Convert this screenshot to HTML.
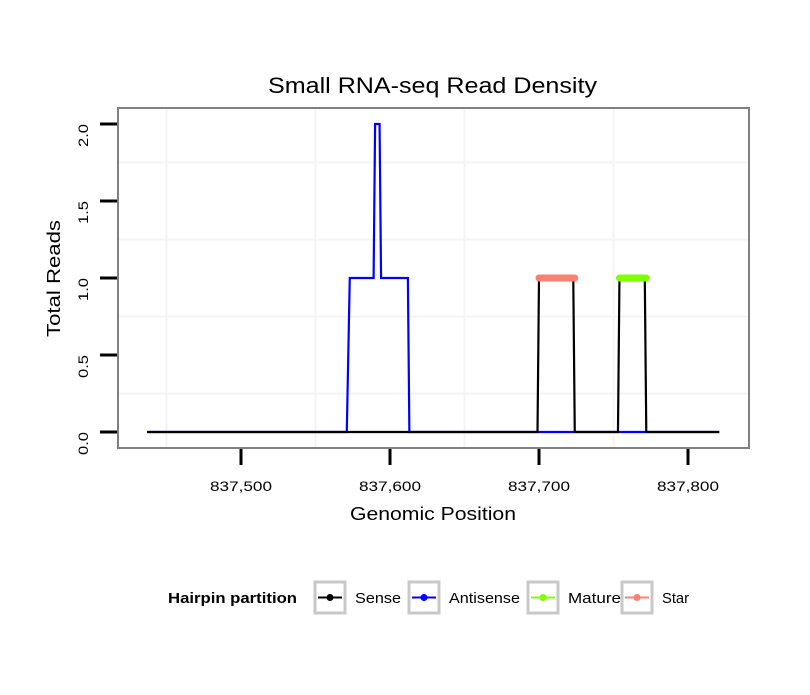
<!DOCTYPE html>
<html><head><meta charset="utf-8"><style>
body{margin:0;background:#fff;font-family:"Liberation Sans",sans-serif}
text{font-family:"Liberation Sans",sans-serif}
</style></head><body>
<svg id="chart" width="810" height="690" xmlns="http://www.w3.org/2000/svg">
<rect width="810" height="690" fill="#fff"/>
<text x="268" y="93" font-size="22" textLength="329" lengthAdjust="spacingAndGlyphs">Small RNA-seq Read Density</text>
<g id="grid"></g>
<g id="series"></g>
<rect x="118" y="108" width="631" height="340" fill="none" stroke="#808080" stroke-width="2"/>
<g id="axes"></g>
<text x="350" y="520" font-size="18" textLength="166" lengthAdjust="spacingAndGlyphs">Genomic Position</text>
<text transform="translate(60,337) rotate(-90)" font-size="18" textLength="117" lengthAdjust="spacingAndGlyphs">Total Reads</text>
<g>
<text x="168" y="603" font-size="15" font-weight="bold" textLength="129" lengthAdjust="spacingAndGlyphs">Hairpin partition</text>
<g id="legend-items"></g>
</g>
</svg>
<script>
const xTicks=[837500,837600,837700,837800];
const xTickLabels=["837,500","837,600","837,700","837,800"];
const xGrid=[837450,837550,837650,837750];
const yTicks=[0,0.5,1,1.5,2];
const yTickLabels=["0.0","0.5","1.0","1.5","2.0"];
const yGrid=[0.25,0.75,1.25,1.75];
const antisensePos=[837437,837571,837573,837589,837590,837593,837594,837612,837613,837821];
const antisenseVal=[0,0,1,1,2,2,1,1,0,0];
const sensePos=[837437,837699,837700,837723,837724,837753,837754,837771,837772,837821];
const senseVal=[0,0,1,1,0,0,1,1,0,0];
const starRange=[837700,837724];const starVal=1;
const matureRange=[837754,837772];const matureVal=1;
const legendLabels=["Sense","Antisense","Mature","Star"];
const legendColors=["#000","#0000ff","#7fff00","#fa8072"];
const legendTextW=[46,71,53,27];

const NS="http://www.w3.org/2000/svg";
const X=v=>241+(v-837500)*1.49;
const Y=v=>432-v*154;
function mk(tag,attrs,parent){const e=document.createElementNS(NS,tag);for(const k in attrs)e.setAttribute(k,attrs[k]);parent.appendChild(e);return e;}
const grid=document.getElementById('grid'),series=document.getElementById('series'),axes=document.getElementById('axes');
xGrid.forEach(v=>{const l=mk('line',{x1:X(v),x2:X(v),y1:109,y2:447,stroke:'#f4f4f4','stroke-width':2},grid);

});
yGrid.forEach(v=>{const l=mk('line',{x1:119,x2:748,y1:Y(v),y2:Y(v),stroke:'#f4f4f4','stroke-width':2},grid);

});
function path(pos,val,color,name){const d=pos.map((p,i)=>(i?'L':'M')+X(p)+','+Y(val[i])).join(' ');
const e=mk('path',{d:d,fill:'none',stroke:color,'stroke-width':2.2},series);

}
path(antisensePos,antisenseVal,'#0000ff','antisense-line');
path(sensePos,senseVal,'#000','sense-line');
const st=mk('line',{x1:X(starRange[0]),x2:X(starRange[1]),y1:Y(starVal),y2:Y(starVal),stroke:'#fa8072','stroke-width':7,'stroke-linecap':'round'},series);


const mt=mk('line',{x1:X(matureRange[0]),x2:X(matureRange[1]),y1:Y(matureVal),y2:Y(matureVal),stroke:'#7fff00','stroke-width':7,'stroke-linecap':'round'},series);


xTicks.forEach((v,i)=>{const t=mk('line',{x1:X(v),x2:X(v),y1:449,y2:465,stroke:'#000','stroke-width':3},axes);


const tx=mk('text',{x:X(v)-31,y:491,'font-size':14,textLength:62,lengthAdjust:'spacingAndGlyphs'},axes);tx.textContent=xTickLabels[i];

});
yTicks.forEach((v,i)=>{const t=mk('line',{x1:100,x2:117,y1:Y(v),y2:Y(v),stroke:'#000','stroke-width':3},axes);


const tx=mk('text',{transform:`translate(88,${Y(v)+23}) rotate(-90)`,'font-size':14,textLength:23,lengthAdjust:'spacingAndGlyphs'},axes);tx.textContent=yTickLabels[i];

});
const li=document.getElementById('legend-items');
const keyX=[315,409,528,622];
legendLabels.forEach((lab,i)=>{const g=mk('g',{},li);


const x=keyX[i];
mk('rect',{x:x,y:582,width:30,height:31,fill:'#fff',stroke:'#c8c8c8','stroke-width':3},g);
mk('line',{x1:x+3,x2:x+27,y1:597.5,y2:597.5,stroke:legendColors[i],'stroke-width':2},g);
mk('circle',{cx:x+15,cy:597.5,r:3.5,fill:legendColors[i]},g);
const t=mk('text',{x:x+40,y:603,'font-size':15,textLength:legendTextW[i],lengthAdjust:'spacingAndGlyphs'},g);t.textContent=lab;});
</script>
</body></html>
